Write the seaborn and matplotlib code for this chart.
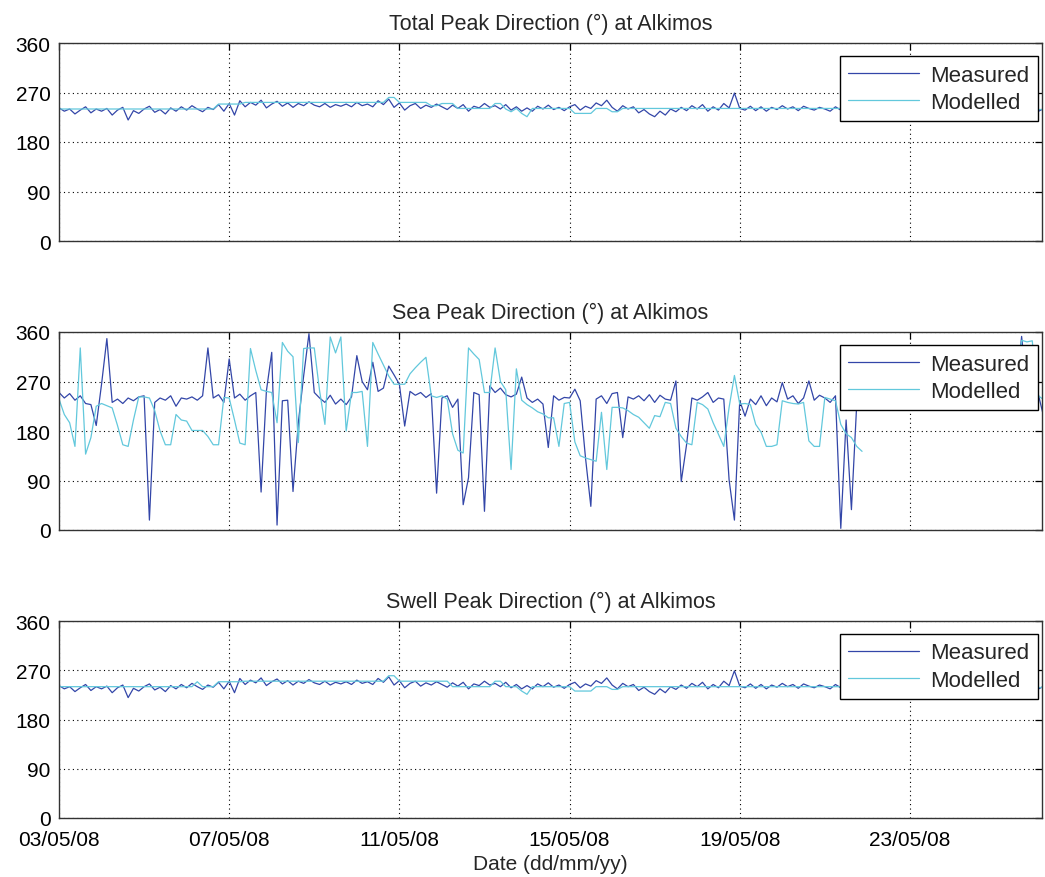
import numpy as np
import pandas as pd
import matplotlib
matplotlib.use("Agg")
import matplotlib.pyplot as plt
import matplotlib.dates as mdates
import seaborn as sns

# ---------------- data (3-hourly samples from 03/05/08 00:00) ----------------
start_main = "2008-05-03 00:00"
start_tail = "2008-05-25 12:00"
step = "3h"

total_measured = [
    242, 236, 240, 231, 238, 244, 233, 240,
    236, 241, 229, 238, 243, 220, 237, 232,
    240, 245, 234, 239, 231, 242, 236, 244,
    238, 246, 240, 235, 243, 239, 248, 236,
    250, 229, 255, 244, 252, 247, 256, 242,
    249, 254, 245, 251, 243, 250, 246, 253,
    247, 244, 250, 243, 248, 245, 249, 244,
    252, 246, 249, 244, 255, 248, 258, 243,
    251, 238, 246, 250, 241, 247, 243, 249,
    244, 239, 247, 241, 248, 236, 245, 242,
    250, 243, 246, 240, 248, 238, 244, 236,
    242, 236, 245, 240, 247, 239, 243, 237,
    244, 248, 238, 245, 241, 251, 246, 256,
    243, 236, 246, 240, 244, 233, 239, 231,
    226, 236, 229, 240, 235, 243, 237, 246,
    240, 248, 236, 244, 238, 250, 242, 269,
    241, 238, 245, 237, 244, 236, 243, 239,
    246, 240, 244, 237, 245, 241, 238, 243,
    240, 236, 244, 238, 242, 239, 241,
]
total_modelled = [
    240, 240, 240, 240, 240, 240, 240, 240,
    240, 240, 240, 240, 240, 240, 240, 240,
    240, 240, 240, 240, 240, 240, 240, 240,
    240, 240, 240, 240, 240, 240, 249, 249,
    249, 249, 249, 252, 252, 252, 252, 252,
    252, 252, 252, 252, 252, 252, 252, 252,
    252, 252, 252, 252, 252, 252, 252, 252,
    252, 252, 252, 252, 252, 252, 261, 261,
    252, 252, 252, 252, 252, 252, 246, 246,
    250, 250, 250, 241, 241, 241, 241, 241,
    241, 241, 250, 250, 240, 235, 241, 232,
    226, 241, 241, 241, 241, 241, 241, 241,
    241, 232, 232, 232, 232, 241, 241, 241,
    235, 235, 241, 241, 241, 241, 241, 241,
    241, 241, 241, 241, 241, 241, 241, 241,
    241, 241, 241, 241, 241, 241, 241, 241,
    241, 241, 241, 241, 241, 241, 241, 241,
    241, 241, 241, 241, 241, 241, 241, 241,
    241, 241, 241, 241, 241, 241, 241, 241,
]
total_measured_tail = [238, 244, 236, 241, 235, 240]
total_modelled_tail = [240, 240, 240, 240, 240, 240]

sea_measured = [
    250, 240, 248, 236, 244, 230, 228, 190,
    265, 348, 232, 238, 230, 240, 235, 242,
    244, 18, 232, 240, 236, 244, 225, 240,
    238, 242, 236, 244, 331, 240, 246, 232,
    311, 240, 247, 236, 244, 250, 69, 253,
    323, 9, 235, 236, 70, 195, 280, 357,
    250, 240, 232, 245, 229, 238, 228, 242,
    317, 270, 255, 305, 252, 258, 298, 282,
    265, 189, 252, 245, 250, 241, 248, 67,
    240, 244, 223, 238, 46, 95, 250, 246,
    34, 262, 250, 258, 246, 242, 247, 278,
    240, 232, 238, 229, 150, 244, 236, 241,
    240, 256, 235, 131, 43, 238, 244, 230,
    248, 250, 168, 242, 238, 244, 235, 246,
    232, 245, 238, 236, 271, 88, 155, 240,
    236, 242, 250, 232, 240, 238, 91, 18,
    235, 207, 238, 228, 244, 226, 240, 233,
    268, 238, 244, 230, 240, 271, 236, 245,
    240, 232, 244, 3, 200, 37, 230,
]
sea_modelled = [
    238, 210, 195, 152, 331, 138, 168, 225,
    230, 226, 222, 190, 155, 152, 200, 242,
    242, 240, 217, 180, 155, 155, 210, 200,
    198, 181, 181, 181, 170, 155, 155, 241,
    240, 200, 158, 155, 330, 290, 255, 252,
    250, 195, 341, 325, 315, 159, 330, 331,
    331, 253, 192, 351, 322, 351, 180, 250,
    250, 252, 152, 341, 320, 300, 280, 265,
    265, 265, 284, 295, 305, 314, 244, 241,
    244, 238, 175, 145, 140, 331, 320, 310,
    250, 250, 331, 270, 255, 110, 293, 236,
    228, 222, 215, 211, 204, 204, 152, 230,
    232, 160, 135, 131, 128, 125, 214, 110,
    223, 223, 222, 217, 210, 205, 195, 185,
    208, 206, 232, 230, 185, 170, 158, 155,
    232, 228, 220, 195, 174, 152, 223, 281,
    229, 230, 228, 192, 178, 152, 152, 155,
    235, 232, 230, 229, 232, 162, 152, 152,
    241, 238, 235, 192, 175, 168, 152, 143,
]
sea_measured_tail = [250, 352, 255, 248, 252, 212]
sea_modelled_tail = [240, 345, 342, 344, 245, 238]

swell_measured = list(total_measured)
swell_modelled = [
    240, 240, 240, 240, 240, 240, 240, 240,
    240, 240, 240, 240, 240, 240, 240, 240,
    240, 240, 240, 240, 240, 240, 240, 240,
    240, 240, 249, 240, 240, 240, 249, 249,
    249, 249, 249, 250, 250, 250, 250, 250,
    250, 250, 250, 250, 250, 250, 250, 250,
    250, 250, 250, 250, 250, 250, 250, 250,
    250, 250, 250, 250, 250, 250, 260, 260,
    250, 250, 250, 250, 250, 250, 250, 250,
    250, 250, 240, 240, 240, 240, 240, 240,
    240, 240, 250, 250, 240, 240, 240, 232,
    226, 240, 240, 240, 240, 240, 240, 240,
    240, 232, 232, 232, 232, 240, 240, 240,
    235, 235, 240, 240, 240, 240, 240, 240,
    240, 240, 240, 240, 240, 240, 240, 240,
    240, 240, 240, 240, 240, 240, 240, 240,
    240, 240, 240, 240, 240, 240, 240, 240,
    240, 240, 240, 240, 240, 240, 240, 240,
    240, 240, 240, 240, 240, 240, 240, 240,
]
swell_measured_tail = list(total_measured_tail)
swell_modelled_tail = list(total_modelled_tail)

titles = ["Total Peak Direction (\u00b0) at Alkimos",
          "Sea Peak Direction (\u00b0) at Alkimos",
          "Swell Peak Direction (\u00b0) at Alkimos"]
series_names = ["Measured", "Modelled"]
tick_dates = ["2008-05-03", "2008-05-07", "2008-05-11",
              "2008-05-15", "2008-05-19", "2008-05-23"]
y_ticks = [0, 90, 180, 270, 360]
x_start = "2008-05-03 00:00"
x_end = "2008-05-26 02:30"
xlabel = "Date (dd/mm/yy)"

colors = {"Measured": "#3346a8", "Modelled": "#62c8dc"}

# ---------------- plotting ----------------
sns.set_style("white")
plt.rcParams["font.family"] = ["Liberation Sans", "DejaVu Sans"]

fig = plt.figure(figsize=(10.45, 8.78), dpi=100)
left, width = 59 / 1045, 983 / 1045
panel_px = [(44, 242), (333, 531), (622, 819)]
axes = [fig.add_axes([left, 1 - b / 878, width, (b - t) / 878]) for t, b in panel_px]

panels = [
    (total_measured, total_modelled, total_measured_tail, total_modelled_tail),
    (sea_measured, sea_modelled, sea_measured_tail, sea_modelled_tail),
    (swell_measured, swell_modelled, swell_measured_tail, swell_modelled_tail),
]


def frame(values, start):
    t = pd.date_range(start, periods=len(values), freq=step)
    return pd.DataFrame({"time": t, "value": values})


for ax, title, (meas, mod, meas_t, mod_t) in zip(axes, titles, panels):
    for name, main, tail in [("Measured", meas, meas_t), ("Modelled", mod, mod_t)]:
        sns.lineplot(data=frame(main, start_main), x="time", y="value", ax=ax,
                     color=colors[name], lw=0.9, label=name, estimator=None, sort=False)
        sns.lineplot(data=frame(tail, start_tail), x="time", y="value", ax=ax,
                     color=colors[name], lw=0.9, label="_nolegend_", estimator=None,
                     sort=False)
    ax.set_xlim(pd.Timestamp(x_start), pd.Timestamp(x_end))
    ax.set_ylim(0, 360)
    ax.set_yticks(y_ticks)
    ax.set_xticks(pd.to_datetime(tick_dates))
    ax.xaxis.set_major_formatter(mdates.DateFormatter("%d/%m/%y"))
    ax.grid(True, linestyle=(0, (1, 3)), color="black", lw=0.8)
    ax.tick_params(direction="in", top=True, right=True, length=5, width=0.9,
                   labelsize=15, colors="black")
    ax.tick_params(axis="y", pad=6)
    ax.tick_params(axis="x", pad=9)
    for s in ax.spines.values():
        s.set_color("#333333")
        s.set_linewidth(1.0)
    ax.set_xlabel("")
    ax.set_ylabel("")
    ax.set_title(title, fontsize=15.5, pad=10)
    leg = ax.legend(loc="upper right", bbox_to_anchor=(0.996, 0.934), borderaxespad=0,
                    fontsize=16, handlelength=3.2, frameon=True, fancybox=False,
                    framealpha=1, edgecolor="black", borderpad=0.38, labelspacing=0.28,
                    handletextpad=0.5)
    leg.get_frame().set_linewidth(1.0)

for ax in axes[:2]:
    ax.tick_params(labelbottom=False)
axes[2].set_xlabel(xlabel, fontsize=15, labelpad=3)

fig.savefig("out.png", dpi=100)
